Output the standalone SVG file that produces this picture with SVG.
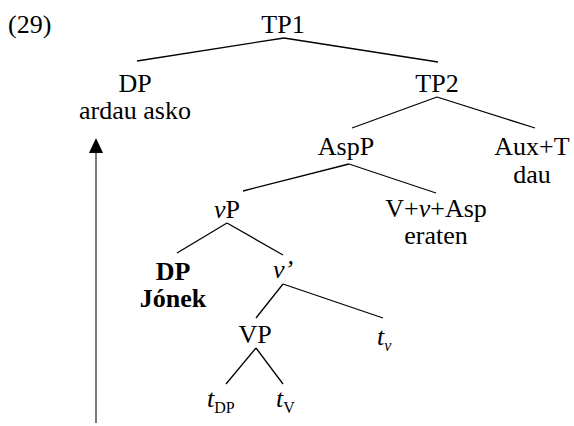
<svg xmlns="http://www.w3.org/2000/svg" width="574" height="426" viewBox="0 0 574 426">
<style>
.c{text-anchor:middle}
.b{font-weight:bold}
.i{font-style:italic}
.s{font-size:16px}
#edges line{stroke:#000;stroke-width:1.3}
</style>
<rect width="574" height="426" fill="#fff"/>
<g id="edges">
<line x1="284" y1="38" x2="137" y2="61"/>
<line x1="284" y1="38" x2="438" y2="62"/>
<line x1="437" y1="97" x2="352" y2="128"/>
<line x1="437" y1="97" x2="535" y2="128"/>
<line x1="349" y1="164" x2="243" y2="191"/>
<line x1="349" y1="164" x2="436" y2="193"/>
<line x1="227" y1="223" x2="177" y2="253"/>
<line x1="227" y1="223" x2="283" y2="255"/>
<line x1="283" y1="284" x2="256" y2="318"/>
<line x1="283" y1="284" x2="383" y2="318"/>
<line x1="256" y1="348" x2="226" y2="384"/>
<line x1="256" y1="348" x2="283" y2="384"/>
</g>
<g id="movement">
<line x1="96" y1="423" x2="96" y2="150" stroke="#333" stroke-width="1.3"/>
<polygon points="96,138 89,153 103,153" fill="#000"/>
</g>
<g id="labels" font-family="Liberation Serif" font-size="26" fill="#000">
<text x="8" y="33">(29)</text>
<g id="TP1"><text class="c" x="283" y="33">TP1</text></g>
<g id="DP1"><text class="c" x="135" y="92">DP</text><text class="c" x="135" y="119">ardau asko</text></g>
<g id="TP2"><text class="c" x="437" y="92">TP2</text></g>
<g id="AspP"><text class="c" x="346" y="155">AspP</text></g>
<g id="AuxT"><text class="c" x="532" y="155">Aux+T</text><text class="c" x="532" y="183">dau</text></g>
<g id="vP"><text class="c" x="227" y="218"><tspan class="i">v</tspan>P</text></g>
<g id="VvAsp"><text class="c" x="436" y="217">V+<tspan class="i">v</tspan>+Asp</text><text class="c" x="436" y="244">eraten</text></g>
<g id="DP2"><text class="c b" x="173" y="280">DP</text><text class="c b" x="173" y="307">Jónek</text></g>
<g id="vbar"><text class="c i" x="283" y="278">v’</text></g>
<g id="VP"><text class="c" x="255" y="343">VP</text></g>
<g id="tv"><text x="377" y="345"><tspan class="i">t</tspan><tspan class="i s" dy="6">v</tspan></text></g>
<g id="tDP"><text x="207" y="407"><tspan class="i">t</tspan><tspan class="s" dy="6">DP</tspan></text></g>
<g id="tV"><text x="276" y="407"><tspan class="i">t</tspan><tspan class="s" dy="6">V</tspan></text></g>
</g>
</svg>
